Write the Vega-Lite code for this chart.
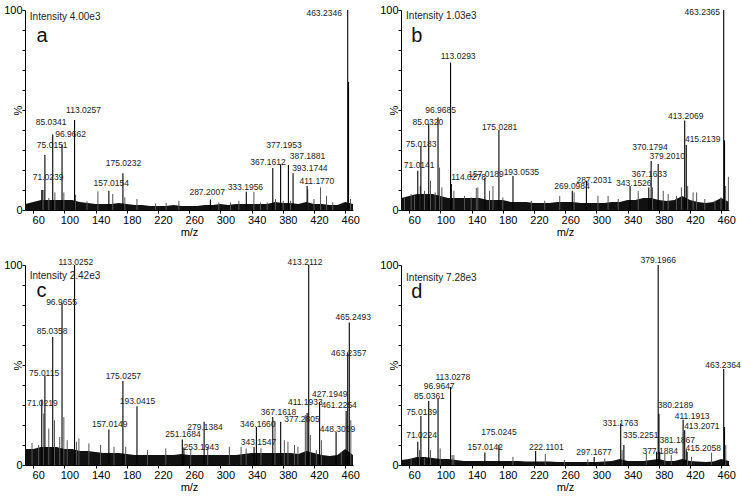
{
"$schema": "https://vega.github.io/schema/vega-lite/v6.json",
"padding": {"left": 3, "top": 4, "right": 2, "bottom": 2},
"background": "white",
"config": {
  "font": "Liberation Sans",
  "view": {"stroke": null},
  "axis": {"grid": false, "domainColor": "#000", "tickColor": "#000", "labelColor": "#000", "titleColor": "#000", "labelFontSize": 11, "titleFontSize": 11, "titleFontWeight": "normal", "tickSize": 3, "labelOverlap": false, "labelFlush": false, "zindex": 1}
},
"datasets": {
  "peaks": [
    {"p":"a","mz":463.2346,"v":100},{"p":"a","mz":464.24,"v":64},{"p":"a","mz":113.0257,"v":45},{"p":"a","mz":85.0341,"v":37.8},{"p":"a","mz":96.9662,"v":32.8},{"p":"a","mz":75.0151,"v":27.5},{"p":"a","mz":71.0239,"v":10},{"p":"a","mz":175.0232,"v":18.4},{"p":"a","mz":157.0154,"v":9.6},{"p":"a","mz":287.2007,"v":5.3},{"p":"a","mz":333.1956,"v":9.1},{"p":"a","mz":367.1612,"v":21},{"p":"a","mz":377.1953,"v":22.9},{"p":"a","mz":387.1881,"v":22.5},{"p":"a","mz":393.1744,"v":18.4},{"p":"a","mz":411.177,"v":12},
    {"p":"b","mz":463.2365,"v":100},{"p":"b","mz":464.24,"v":34.8},{"p":"b","mz":113.0293,"v":73.8},{"p":"b","mz":96.9685,"v":46.4},{"p":"b","mz":85.032,"v":43},{"p":"b","mz":75.0183,"v":32},{"p":"b","mz":71.0141,"v":19.6},{"p":"b","mz":114.0278,"v":13},{"p":"b","mz":157.0189,"v":16},{"p":"b","mz":175.0281,"v":40},{"p":"b","mz":193.0535,"v":17},{"p":"b","mz":269.0984,"v":9.6},{"p":"b","mz":287.2031,"v":14.6},{"p":"b","mz":343.1526,"v":12},{"p":"b","mz":367.1633,"v":11.3},{"p":"b","mz":370.1794,"v":24.5},{"p":"b","mz":379.201,"v":23},{"p":"b","mz":413.2069,"v":44.8},{"p":"b","mz":415.2139,"v":32.5},
    {"p":"c","mz":113.0252,"v":100},{"p":"c","mz":413.2112,"v":100},{"p":"c","mz":96.9655,"v":81},{"p":"c","mz":85.0358,"v":64},{"p":"c","mz":75.0115,"v":44.8},{"p":"c","mz":71.0219,"v":32.7},{"p":"c","mz":175.0257,"v":42},{"p":"c","mz":193.0415,"v":29.4},{"p":"c","mz":157.0149,"v":17.7},{"p":"c","mz":251.1684,"v":12.8},{"p":"c","mz":253.1943,"v":8.8},{"p":"c","mz":279.1384,"v":21.6},{"p":"c","mz":343.1547,"v":9},{"p":"c","mz":346.166,"v":19},{"p":"c","mz":367.1618,"v":24},{"p":"c","mz":377.2805,"v":21.6},{"p":"c","mz":411.1933,"v":26},{"p":"c","mz":427.1949,"v":31.5},{"p":"c","mz":448.3059,"v":16.6},{"p":"c","mz":461.2254,"v":27},{"p":"c","mz":463.2357,"v":56.4},{"p":"c","mz":465.2493,"v":71.3},
    {"p":"d","mz":379.1966,"v":100},{"p":"d","mz":463.2364,"v":48},{"p":"d","mz":113.0278,"v":39},{"p":"d","mz":96.9647,"v":33},{"p":"d","mz":85.0361,"v":32},{"p":"d","mz":75.0139,"v":24.5},{"p":"d","mz":71.0224,"v":11.6},{"p":"d","mz":175.0245,"v":10},{"p":"d","mz":157.0142,"v":6.3},{"p":"d","mz":222.1101,"v":7},{"p":"d","mz":297.1677,"v":4},{"p":"d","mz":331.1763,"v":20.7},{"p":"d","mz":335.2251,"v":10},{"p":"d","mz":377.1884,"v":6.6},{"p":"d","mz":380.2189,"v":25.6},{"p":"d","mz":381.1867,"v":6.6},{"p":"d","mz":411.1913,"v":22.6},{"p":"d","mz":413.2071,"v":17.4},{"p":"d","mz":415.2058,"v":7.4},{"p":"d","mz":464.24,"v":19}
  ],
  "minor": [
    {"p":"a","mz":72,"v":10},{"p":"a","mz":73.7,"v":10},{"p":"a","mz":80,"v":6},{"p":"a","mz":87.8,"v":8.8},{"p":"a","mz":99.3,"v":8.8},{"p":"a","mz":114.3,"v":7.6},{"p":"a","mz":129,"v":4.3},{"p":"a","mz":143,"v":9.3},{"p":"a","mz":162,"v":8},{"p":"a","mz":177.5,"v":6.3},{"p":"a","mz":193,"v":5.5},{"p":"a","mz":217,"v":3.3},{"p":"a","mz":230.5,"v":3.6},{"p":"a","mz":246.8,"v":4.6},{"p":"a","mz":298,"v":3.8},{"p":"a","mz":313,"v":3.8},{"p":"a","mz":323.7,"v":4.6},{"p":"a","mz":343,"v":9.1},{"p":"a","mz":351.5,"v":3.8},{"p":"a","mz":360,"v":3.8},{"p":"a","mz":370.7,"v":5.5},{"p":"a","mz":380.5,"v":4.6},{"p":"a","mz":390,"v":4.6},{"p":"a","mz":412,"v":10.4},{"p":"a","mz":420,"v":5.5},{"p":"a","mz":428.4,"v":11.3},{"p":"a","mz":436,"v":7.1},{"p":"a","mz":444,"v":3.8},{"p":"a","mz":466.8,"v":5.5},
    {"p":"b","mz":54,"v":6.3},{"p":"b","mz":62.5,"v":8},{"p":"b","mz":66.8,"v":7.1},{"p":"b","mz":74.2,"v":12},{"p":"b","mz":79.6,"v":9.6},{"p":"b","mz":87.3,"v":14.6},{"p":"b","mz":93.3,"v":8.8},{"p":"b","mz":98.9,"v":21.2},{"p":"b","mz":101.9,"v":11.3},{"p":"b","mz":117.3,"v":9.6},{"p":"b","mz":131,"v":7.1},{"p":"b","mz":139.5,"v":6.3},{"p":"b","mz":146,"v":11},{"p":"b","mz":148,"v":11.3},{"p":"b","mz":163,"v":9.6},{"p":"b","mz":167.4,"v":12},{"p":"b","mz":180,"v":6.3},{"p":"b","mz":216.6,"v":4.6},{"p":"b","mz":233.7,"v":4.6},{"p":"b","mz":253,"v":7.1},{"p":"b","mz":271.4,"v":8.8},{"p":"b","mz":302,"v":7.1},{"p":"b","mz":315,"v":7.1},{"p":"b","mz":328,"v":5.5},{"p":"b","mz":353.6,"v":9.6},{"p":"b","mz":372,"v":11.3},{"p":"b","mz":385.7,"v":9.6},{"p":"b","mz":392,"v":8},{"p":"b","mz":402.8,"v":7.1},{"p":"b","mz":409,"v":11.3},{"p":"b","mz":417,"v":12},{"p":"b","mz":424,"v":8.8},{"p":"b","mz":428.5,"v":8.8},{"p":"b","mz":439,"v":5.5},{"p":"b","mz":452,"v":4.6},{"p":"b","mz":459.7,"v":6.3},{"p":"b","mz":465.7,"v":12},{"p":"b","mz":469.2,"v":16.6},
    {"p":"c","mz":58.5,"v":11},{"p":"c","mz":67,"v":10},{"p":"c","mz":73.5,"v":25.7},{"p":"c","mz":80,"v":18.2},{"p":"c","mz":87.3,"v":22.4},{"p":"c","mz":94,"v":14},{"p":"c","mz":99.3,"v":24},{"p":"c","mz":103.6,"v":12.4},{"p":"c","mz":115.6,"v":11.6},{"p":"c","mz":118.6,"v":13.3},{"p":"c","mz":131.4,"v":10.8},{"p":"c","mz":146.4,"v":10},{"p":"c","mz":163.6,"v":9.1},{"p":"c","mz":178.6,"v":9.1},{"p":"c","mz":206.5,"v":7.5},{"p":"c","mz":230,"v":8.3},{"p":"c","mz":262,"v":7.5},{"p":"c","mz":283.7,"v":9.1},{"p":"c","mz":311.5,"v":9.1},{"p":"c","mz":326.5,"v":9.1},{"p":"c","mz":333,"v":8.3},{"p":"c","mz":352,"v":8.3},{"p":"c","mz":370,"v":22},{"p":"c","mz":382,"v":12.4},{"p":"c","mz":386.6,"v":11.6},{"p":"c","mz":395,"v":10},{"p":"c","mz":399.4,"v":9.1},{"p":"c","mz":408.9,"v":25},{"p":"c","mz":415.3,"v":15},{"p":"c","mz":423,"v":7.5},{"p":"c","mz":429.5,"v":12.4},{"p":"c","mz":455,"v":6.6},{"p":"c","mz":467.2,"v":22.4},
    {"p":"d","mz":62.5,"v":3.3},{"p":"d","mz":73.2,"v":7.4},{"p":"d","mz":79.6,"v":3.3},{"p":"d","mz":87.3,"v":7.4},{"p":"d","mz":99.7,"v":8.3},{"p":"d","mz":115,"v":5},{"p":"d","mz":117.3,"v":5},{"p":"d","mz":193,"v":4.1},{"p":"d","mz":234.5,"v":5.5},{"p":"d","mz":259,"v":2.5},{"p":"d","mz":289,"v":2.8},{"p":"d","mz":310.7,"v":3.3},{"p":"d","mz":333,"v":7.4},{"p":"d","mz":364,"v":5.8},{"p":"d","mz":387.7,"v":5.8},{"p":"d","mz":396,"v":5},{"p":"d","mz":416.8,"v":6.6},{"p":"d","mz":422,"v":4.1},{"p":"d","mz":447.6,"v":6.1},{"p":"d","mz":465.9,"v":10}
  ],
  "noise": [
    {"p":"a","mz":50,"v":3},{"p":"a","mz":60,"v":4},{"p":"a","mz":70,"v":5},{"p":"a","mz":80,"v":5},{"p":"a","mz":90,"v":5},{"p":"a","mz":100,"v":5},{"p":"a","mz":110,"v":5},{"p":"a","mz":120,"v":4},{"p":"a","mz":130,"v":3.5},{"p":"a","mz":140,"v":3},{"p":"a","mz":150,"v":3},{"p":"a","mz":160,"v":3},{"p":"a","mz":170,"v":3.5},{"p":"a","mz":180,"v":3},{"p":"a","mz":190,"v":2.5},{"p":"a","mz":200,"v":2.5},{"p":"a","mz":210,"v":2},{"p":"a","mz":220,"v":2},{"p":"a","mz":230,"v":2},{"p":"a","mz":240,"v":2.5},{"p":"a","mz":250,"v":2},{"p":"a","mz":260,"v":2},{"p":"a","mz":270,"v":2},{"p":"a","mz":280,"v":2.5},{"p":"a","mz":290,"v":2.5},{"p":"a","mz":300,"v":3},{"p":"a","mz":310,"v":2.5},{"p":"a","mz":320,"v":3},{"p":"a","mz":330,"v":3},{"p":"a","mz":340,"v":3},{"p":"a","mz":350,"v":3},{"p":"a","mz":360,"v":3},{"p":"a","mz":370,"v":4},{"p":"a","mz":380,"v":3.5},{"p":"a","mz":390,"v":3.5},{"p":"a","mz":400,"v":3},{"p":"a","mz":410,"v":4},{"p":"a","mz":420,"v":3},{"p":"a","mz":430,"v":3},{"p":"a","mz":440,"v":2.5},{"p":"a","mz":450,"v":2.5},{"p":"a","mz":460,"v":4},{"p":"a","mz":470,"v":3},
    {"p":"b","mz":50,"v":6},{"p":"b","mz":60,"v":7},{"p":"b","mz":70,"v":8},{"p":"b","mz":80,"v":8},{"p":"b","mz":90,"v":8},{"p":"b","mz":100,"v":7},{"p":"b","mz":110,"v":6},{"p":"b","mz":120,"v":6},{"p":"b","mz":130,"v":6},{"p":"b","mz":140,"v":6},{"p":"b","mz":150,"v":6},{"p":"b","mz":160,"v":5},{"p":"b","mz":170,"v":5},{"p":"b","mz":180,"v":5},{"p":"b","mz":190,"v":4},{"p":"b","mz":200,"v":4},{"p":"b","mz":210,"v":4},{"p":"b","mz":220,"v":3.5},{"p":"b","mz":230,"v":3.5},{"p":"b","mz":240,"v":3.5},{"p":"b","mz":250,"v":4},{"p":"b","mz":260,"v":4},{"p":"b","mz":270,"v":4},{"p":"b","mz":280,"v":3.5},{"p":"b","mz":290,"v":3.5},{"p":"b","mz":300,"v":3.5},{"p":"b","mz":310,"v":3.5},{"p":"b","mz":320,"v":4},{"p":"b","mz":330,"v":4},{"p":"b","mz":340,"v":5},{"p":"b","mz":350,"v":5},{"p":"b","mz":360,"v":6},{"p":"b","mz":370,"v":6},{"p":"b","mz":380,"v":5},{"p":"b","mz":390,"v":4.5},{"p":"b","mz":400,"v":5},{"p":"b","mz":410,"v":7},{"p":"b","mz":420,"v":5},{"p":"b","mz":430,"v":4},{"p":"b","mz":440,"v":3.5},{"p":"b","mz":450,"v":4},{"p":"b","mz":460,"v":6},{"p":"b","mz":470,"v":4},
    {"p":"c","mz":50,"v":8},{"p":"c","mz":60,"v":8},{"p":"c","mz":70,"v":9},{"p":"c","mz":80,"v":9},{"p":"c","mz":90,"v":9},{"p":"c","mz":100,"v":8},{"p":"c","mz":110,"v":8},{"p":"c","mz":120,"v":7},{"p":"c","mz":130,"v":7},{"p":"c","mz":140,"v":6.5},{"p":"c","mz":150,"v":6},{"p":"c","mz":160,"v":6},{"p":"c","mz":170,"v":6},{"p":"c","mz":180,"v":5.5},{"p":"c","mz":190,"v":5},{"p":"c","mz":200,"v":5},{"p":"c","mz":210,"v":5},{"p":"c","mz":220,"v":5},{"p":"c","mz":230,"v":5},{"p":"c","mz":240,"v":5},{"p":"c","mz":250,"v":5.5},{"p":"c","mz":260,"v":5},{"p":"c","mz":270,"v":5},{"p":"c","mz":280,"v":5},{"p":"c","mz":290,"v":5},{"p":"c","mz":300,"v":5},{"p":"c","mz":310,"v":5},{"p":"c","mz":320,"v":5},{"p":"c","mz":330,"v":5.5},{"p":"c","mz":340,"v":6},{"p":"c","mz":350,"v":6},{"p":"c","mz":360,"v":6},{"p":"c","mz":370,"v":6},{"p":"c","mz":380,"v":6},{"p":"c","mz":390,"v":6},{"p":"c","mz":400,"v":5.5},{"p":"c","mz":410,"v":7},{"p":"c","mz":420,"v":6},{"p":"c","mz":430,"v":5},{"p":"c","mz":440,"v":4.5},{"p":"c","mz":450,"v":5},{"p":"c","mz":460,"v":8},{"p":"c","mz":470,"v":5},
    {"p":"d","mz":50,"v":2.5},{"p":"d","mz":60,"v":3},{"p":"d","mz":70,"v":4},{"p":"d","mz":80,"v":4},{"p":"d","mz":90,"v":3.5},{"p":"d","mz":100,"v":3},{"p":"d","mz":110,"v":3},{"p":"d","mz":120,"v":2.5},{"p":"d","mz":130,"v":2},{"p":"d","mz":140,"v":2},{"p":"d","mz":150,"v":2},{"p":"d","mz":160,"v":2},{"p":"d","mz":170,"v":2},{"p":"d","mz":180,"v":2},{"p":"d","mz":190,"v":2},{"p":"d","mz":200,"v":2},{"p":"d","mz":210,"v":1.8},{"p":"d","mz":220,"v":1.8},{"p":"d","mz":230,"v":1.8},{"p":"d","mz":240,"v":1.8},{"p":"d","mz":250,"v":1.5},{"p":"d","mz":260,"v":1.5},{"p":"d","mz":270,"v":1.5},{"p":"d","mz":280,"v":1.5},{"p":"d","mz":290,"v":1.5},{"p":"d","mz":300,"v":1.5},{"p":"d","mz":310,"v":1.8},{"p":"d","mz":320,"v":2},{"p":"d","mz":330,"v":3},{"p":"d","mz":340,"v":2},{"p":"d","mz":350,"v":2},{"p":"d","mz":360,"v":2},{"p":"d","mz":370,"v":2.5},{"p":"d","mz":380,"v":3},{"p":"d","mz":390,"v":2},{"p":"d","mz":400,"v":2},{"p":"d","mz":410,"v":3},{"p":"d","mz":420,"v":2},{"p":"d","mz":430,"v":1.8},{"p":"d","mz":440,"v":1.5},{"p":"d","mz":450,"v":1.8},{"p":"d","mz":460,"v":3},{"p":"d","mz":470,"v":2}
  ],
  "labels": [
    {"p":"a","mz":433,"v":98.3,"t":"463.2346"},{"p":"a","mz":124.5,"v":50.2,"t":"113.0257"},{"p":"a","mz":83,"v":44,"t":"85.0341"},{"p":"a","mz":108,"v":37.8,"t":"96.9662"},{"p":"a","mz":84.4,"v":32.5,"t":"75.0151"},{"p":"a","mz":79.2,"v":16.3,"t":"71.0239"},{"p":"a","mz":175.8,"v":23.7,"t":"175.0232"},{"p":"a","mz":160,"v":13.3,"t":"157.0154"},{"p":"a","mz":283,"v":9.1,"t":"287.2007"},{"p":"a","mz":332,"v":11.3,"t":"333.1956"},{"p":"a","mz":360.9,"v":23.9,"t":"367.1612"},{"p":"a","mz":381.4,"v":32.5,"t":"377.1953"},{"p":"a","mz":411.7,"v":26.9,"t":"387.1881"},{"p":"a","mz":414.7,"v":21.2,"t":"393.1744"},{"p":"a","mz":423.7,"v":14.6,"t":"411.1770"},
    {"p":"b","mz":435.8,"v":99.2,"t":"463.2365"},{"p":"b","mz":122.8,"v":76.8,"t":"113.0293"},{"p":"b","mz":100.2,"v":50.2,"t":"96.9685"},{"p":"b","mz":83.9,"v":44.1,"t":"85.0320"},{"p":"b","mz":75.3,"v":32.8,"t":"75.0183"},{"p":"b","mz":72.8,"v":22.6,"t":"71.0141"},{"p":"b","mz":175.9,"v":41.5,"t":"175.0281"},{"p":"b","mz":136.1,"v":16.6,"t":"114.0278"},{"p":"b","mz":158.4,"v":17.9,"t":"157.0189"},{"p":"b","mz":203.8,"v":19.1,"t":"193.0535"},{"p":"b","mz":268.8,"v":11.8,"t":"269.0984"},{"p":"b","mz":297.1,"v":14.9,"t":"287.2031"},{"p":"b","mz":348,"v":13.3,"t":"343.1526"},{"p":"b","mz":367.7,"v":17.9,"t":"367.1633"},{"p":"b","mz":368.6,"v":31.5,"t":"370.1794"},{"p":"b","mz":390.8,"v":27,"t":"379.2010"},{"p":"b","mz":414.4,"v":46.9,"t":"413.2069"},{"p":"b","mz":436.2,"v":35.3,"t":"415.2139"},
    {"p":"c","mz":114.7,"v":101.7,"t":"113.0252"},{"p":"c","mz":96.3,"v":81.3,"t":"96.9655"},{"p":"c","mz":84.3,"v":67.2,"t":"85.0358"},{"p":"c","mz":74,"v":46.1,"t":"75.0115"},{"p":"c","mz":71.8,"v":31.2,"t":"71.0219"},{"p":"c","mz":175.6,"v":44.4,"t":"175.0257"},{"p":"c","mz":193.6,"v":31.8,"t":"193.0415"},{"p":"c","mz":158,"v":20.4,"t":"157.0149"},{"p":"c","mz":252,"v":15.3,"t":"251.1684"},{"p":"c","mz":275.5,"v":9.1,"t":"253.1943"},{"p":"c","mz":280.2,"v":19.1,"t":"279.1384"},{"p":"c","mz":348.8,"v":11.6,"t":"343.1547"},{"p":"c","mz":348,"v":20.4,"t":"346.1660"},{"p":"c","mz":374.6,"v":26.5,"t":"367.1618"},{"p":"c","mz":404.6,"v":23.2,"t":"377.2805"},{"p":"c","mz":408.9,"v":31.5,"t":"411.1933"},{"p":"c","mz":440.2,"v":35.7,"t":"427.1949"},{"p":"c","mz":450,"v":17.9,"t":"448.3059"},{"p":"c","mz":452.2,"v":29.9,"t":"461.2254"},{"p":"c","mz":464.6,"v":55.9,"t":"463.2357"},{"p":"c","mz":470.2,"v":74.1,"t":"465.2493"},{"p":"c","mz":408.5,"v":101.7,"t":"413.2112"},
    {"p":"d","mz":379.2,"v":102.5,"t":"379.1966"},{"p":"d","mz":462.2,"v":49.9,"t":"463.2364"},{"p":"d","mz":116,"v":44.1,"t":"113.0278"},{"p":"d","mz":98.5,"v":39.3,"t":"96.9647"},{"p":"d","mz":86,"v":34.7,"t":"85.0361"},{"p":"d","mz":75.8,"v":26.4,"t":"75.0139"},{"p":"d","mz":75.8,"v":14.9,"t":"71.0224"},{"p":"d","mz":175,"v":16.5,"t":"175.0245"},{"p":"d","mz":157.5,"v":9.1,"t":"157.0142"},{"p":"d","mz":235.8,"v":9.1,"t":"222.1101"},{"p":"d","mz":297,"v":6.6,"t":"297.1677"},{"p":"d","mz":330.8,"v":21,"t":"331.1763"},{"p":"d","mz":356.9,"v":15.2,"t":"335.2251"},{"p":"d","mz":401.4,"v":30.2,"t":"380.2189"},{"p":"d","mz":422.8,"v":24.3,"t":"411.1913"},{"p":"d","mz":435.2,"v":19.5,"t":"413.2071"},{"p":"d","mz":403.5,"v":12.4,"t":"381.1867"},{"p":"d","mz":381.7,"v":6.9,"t":"377.1884"},{"p":"d","mz":437,"v":8.6,"t":"415.2058"}
  ],
  "info": [
    {"p":"a","mz":55.7,"v":95,"t":"Intensity 4.00e3"},{"p":"b","mz":56,"v":95.4,"t":"Intensity 1.03e3"},{"p":"c","mz":55.5,"v":92.9,"t":"Intensity 2.42e3"},{"p":"d","mz":56,"v":92.1,"t":"Intensity 7.28e3"}
  ],
  "letters": [
    {"p":"a","mz":64.3,"v":84,"t":"a"},{"p":"b","mz":62.5,"v":84,"t":"b"},{"p":"c","mz":64.1,"v":84,"t":"c"},{"p":"d","mz":62.5,"v":83.5,"t":"d"}
  ]
},
"columns": 2,
"spacing": {"row": 55, "column": 48},
"bounds": "flush",
"concat": [
  {"width": 328, "height": 200, "layer": [
    {"data": {"name": "noise"}, "transform": [{"filter": "datum.p=='a'"}], "mark": {"type": "area", "color": "#111"}, "encoding": {"x": {"field": "mz", "type": "quantitative", "scale": {"domain": [49.5, 470], "nice": false, "zero": false}, "axis": {"values": [60,100,140,180,220,260,300,340,380,420,460], "tickCount": 30, "title": "m/z", "labelPadding": 1, "titlePadding": 1, "labelOffset": 5, "labelOverlap": false}}, "y": {"field": "v", "type": "quantitative", "scale": {"domain": [0, 100], "nice": false}, "axis": {"values": [0,10,20,30,40,50,60,70,80,90,100], "tickCount": 30, "labelExpr": "datum.value==0||datum.value==100?datum.label:''", "title": "%", "titleX": -7, "titleY": 100, "titleAngle": -90, "titleAlign": "center", "titleBaseline": "middle", "labelPadding": 0, "labelOverlap": false}}}},
    {"data": {"name": "minor"}, "transform": [{"filter": "datum.p=='a'"}], "mark": {"type": "rule", "color": "#555", "strokeWidth": 1}, "encoding": {"x": {"field": "mz", "type": "quantitative"}, "y": {"field": "v", "type": "quantitative"}, "y2": {"datum": 0}}},
    {"data": {"name": "peaks"}, "transform": [{"filter": "datum.p=='a'"}], "mark": {"type": "rule", "color": "#000", "strokeWidth": 1.1}, "encoding": {"x": {"field": "mz", "type": "quantitative"}, "y": {"field": "v", "type": "quantitative"}, "y2": {"datum": 0}}},
    {"data": {"name": "labels"}, "transform": [{"filter": "datum.p=='a'"}], "mark": {"type": "text", "fontSize": 8.5, "color": "#222", "baseline": "middle"}, "encoding": {"x": {"field": "mz", "type": "quantitative"}, "y": {"field": "v", "type": "quantitative"}, "text": {"field": "t"}}},
    {"data": {"name": "info"}, "transform": [{"filter": "datum.p=='a'"}], "mark": {"type": "text", "fontSize": 10, "color": "#222", "align": "left", "baseline": "alphabetic"}, "encoding": {"x": {"field": "mz", "type": "quantitative"}, "y": {"field": "v", "type": "quantitative"}, "text": {"field": "t"}}},
    {"data": {"name": "letters"}, "transform": [{"filter": "datum.p=='a'"}], "mark": {"type": "text", "fontSize": 20, "color": "#111", "align": "left", "baseline": "alphabetic"}, "encoding": {"x": {"field": "mz", "type": "quantitative"}, "y": {"field": "v", "type": "quantitative"}, "text": {"field": "t"}}}
  ]},
  {"width": 328, "height": 200, "layer": [
    {"data": {"name": "noise"}, "transform": [{"filter": "datum.p=='b'"}], "mark": {"type": "area", "color": "#111"}, "encoding": {"x": {"field": "mz", "type": "quantitative", "scale": {"domain": [49.5, 470], "nice": false, "zero": false}, "axis": {"values": [60,100,140,180,220,260,300,340,380,420,460], "tickCount": 30, "title": "m/z", "labelPadding": 1, "titlePadding": 1, "labelOffset": 5, "labelOverlap": false}}, "y": {"field": "v", "type": "quantitative", "scale": {"domain": [0, 100], "nice": false}, "axis": {"values": [0,10,20,30,40,50,60,70,80,90,100], "tickCount": 30, "labelExpr": "datum.value==0||datum.value==100?datum.label:''", "title": "%", "titleX": -7, "titleY": 100, "titleAngle": -90, "titleAlign": "center", "titleBaseline": "middle", "labelPadding": 0, "labelOverlap": false}}}},
    {"data": {"name": "minor"}, "transform": [{"filter": "datum.p=='b'"}], "mark": {"type": "rule", "color": "#555", "strokeWidth": 1}, "encoding": {"x": {"field": "mz", "type": "quantitative"}, "y": {"field": "v", "type": "quantitative"}, "y2": {"datum": 0}}},
    {"data": {"name": "peaks"}, "transform": [{"filter": "datum.p=='b'"}], "mark": {"type": "rule", "color": "#000", "strokeWidth": 1.1}, "encoding": {"x": {"field": "mz", "type": "quantitative"}, "y": {"field": "v", "type": "quantitative"}, "y2": {"datum": 0}}},
    {"data": {"name": "labels"}, "transform": [{"filter": "datum.p=='b'"}], "mark": {"type": "text", "fontSize": 8.5, "color": "#222", "baseline": "middle"}, "encoding": {"x": {"field": "mz", "type": "quantitative"}, "y": {"field": "v", "type": "quantitative"}, "text": {"field": "t"}}},
    {"data": {"name": "info"}, "transform": [{"filter": "datum.p=='b'"}], "mark": {"type": "text", "fontSize": 10, "color": "#222", "align": "left", "baseline": "alphabetic"}, "encoding": {"x": {"field": "mz", "type": "quantitative"}, "y": {"field": "v", "type": "quantitative"}, "text": {"field": "t"}}},
    {"data": {"name": "letters"}, "transform": [{"filter": "datum.p=='b'"}], "mark": {"type": "text", "fontSize": 20, "color": "#111", "align": "left", "baseline": "alphabetic"}, "encoding": {"x": {"field": "mz", "type": "quantitative"}, "y": {"field": "v", "type": "quantitative"}, "text": {"field": "t"}}}
  ]},
  {"width": 328, "height": 200, "layer": [
    {"data": {"name": "noise"}, "transform": [{"filter": "datum.p=='c'"}], "mark": {"type": "area", "color": "#111"}, "encoding": {"x": {"field": "mz", "type": "quantitative", "scale": {"domain": [49.5, 470], "nice": false, "zero": false}, "axis": {"values": [60,100,140,180,220,260,300,340,380,420,460], "tickCount": 30, "title": "m/z", "labelPadding": 1, "titlePadding": 1, "labelOffset": 5, "labelOverlap": false}}, "y": {"field": "v", "type": "quantitative", "scale": {"domain": [0, 100], "nice": false}, "axis": {"values": [0,10,20,30,40,50,60,70,80,90,100], "tickCount": 30, "labelExpr": "datum.value==0||datum.value==100?datum.label:''", "title": "%", "titleX": -7, "titleY": 100, "titleAngle": -90, "titleAlign": "center", "titleBaseline": "middle", "labelPadding": 0, "labelOverlap": false}}}},
    {"data": {"name": "minor"}, "transform": [{"filter": "datum.p=='c'"}], "mark": {"type": "rule", "color": "#555", "strokeWidth": 1}, "encoding": {"x": {"field": "mz", "type": "quantitative"}, "y": {"field": "v", "type": "quantitative"}, "y2": {"datum": 0}}},
    {"data": {"name": "peaks"}, "transform": [{"filter": "datum.p=='c'"}], "mark": {"type": "rule", "color": "#000", "strokeWidth": 1.1}, "encoding": {"x": {"field": "mz", "type": "quantitative"}, "y": {"field": "v", "type": "quantitative"}, "y2": {"datum": 0}}},
    {"data": {"name": "labels"}, "transform": [{"filter": "datum.p=='c'"}], "mark": {"type": "text", "fontSize": 8.5, "color": "#222", "baseline": "middle"}, "encoding": {"x": {"field": "mz", "type": "quantitative"}, "y": {"field": "v", "type": "quantitative"}, "text": {"field": "t"}}},
    {"data": {"name": "info"}, "transform": [{"filter": "datum.p=='c'"}], "mark": {"type": "text", "fontSize": 10, "color": "#222", "align": "left", "baseline": "alphabetic"}, "encoding": {"x": {"field": "mz", "type": "quantitative"}, "y": {"field": "v", "type": "quantitative"}, "text": {"field": "t"}}},
    {"data": {"name": "letters"}, "transform": [{"filter": "datum.p=='c'"}], "mark": {"type": "text", "fontSize": 20, "color": "#111", "align": "left", "baseline": "alphabetic"}, "encoding": {"x": {"field": "mz", "type": "quantitative"}, "y": {"field": "v", "type": "quantitative"}, "text": {"field": "t"}}}
  ]},
  {"width": 328, "height": 200, "layer": [
    {"data": {"name": "noise"}, "transform": [{"filter": "datum.p=='d'"}], "mark": {"type": "area", "color": "#111"}, "encoding": {"x": {"field": "mz", "type": "quantitative", "scale": {"domain": [49.5, 470], "nice": false, "zero": false}, "axis": {"values": [60,100,140,180,220,260,300,340,380,420,460], "tickCount": 30, "title": "m/z", "labelPadding": 1, "titlePadding": 1, "labelOffset": 5, "labelOverlap": false}}, "y": {"field": "v", "type": "quantitative", "scale": {"domain": [0, 100], "nice": false}, "axis": {"values": [0,10,20,30,40,50,60,70,80,90,100], "tickCount": 30, "labelExpr": "datum.value==0||datum.value==100?datum.label:''", "title": "%", "titleX": -7, "titleY": 100, "titleAngle": -90, "titleAlign": "center", "titleBaseline": "middle", "labelPadding": 0, "labelOverlap": false}}}},
    {"data": {"name": "minor"}, "transform": [{"filter": "datum.p=='d'"}], "mark": {"type": "rule", "color": "#555", "strokeWidth": 1}, "encoding": {"x": {"field": "mz", "type": "quantitative"}, "y": {"field": "v", "type": "quantitative"}, "y2": {"datum": 0}}},
    {"data": {"name": "peaks"}, "transform": [{"filter": "datum.p=='d'"}], "mark": {"type": "rule", "color": "#000", "strokeWidth": 1.1}, "encoding": {"x": {"field": "mz", "type": "quantitative"}, "y": {"field": "v", "type": "quantitative"}, "y2": {"datum": 0}}},
    {"data": {"name": "labels"}, "transform": [{"filter": "datum.p=='d'"}], "mark": {"type": "text", "fontSize": 8.5, "color": "#222", "baseline": "middle"}, "encoding": {"x": {"field": "mz", "type": "quantitative"}, "y": {"field": "v", "type": "quantitative"}, "text": {"field": "t"}}},
    {"data": {"name": "info"}, "transform": [{"filter": "datum.p=='d'"}], "mark": {"type": "text", "fontSize": 10, "color": "#222", "align": "left", "baseline": "alphabetic"}, "encoding": {"x": {"field": "mz", "type": "quantitative"}, "y": {"field": "v", "type": "quantitative"}, "text": {"field": "t"}}},
    {"data": {"name": "letters"}, "transform": [{"filter": "datum.p=='d'"}], "mark": {"type": "text", "fontSize": 20, "color": "#111", "align": "left", "baseline": "alphabetic"}, "encoding": {"x": {"field": "mz", "type": "quantitative"}, "y": {"field": "v", "type": "quantitative"}, "text": {"field": "t"}}}
  ]}
]
}
